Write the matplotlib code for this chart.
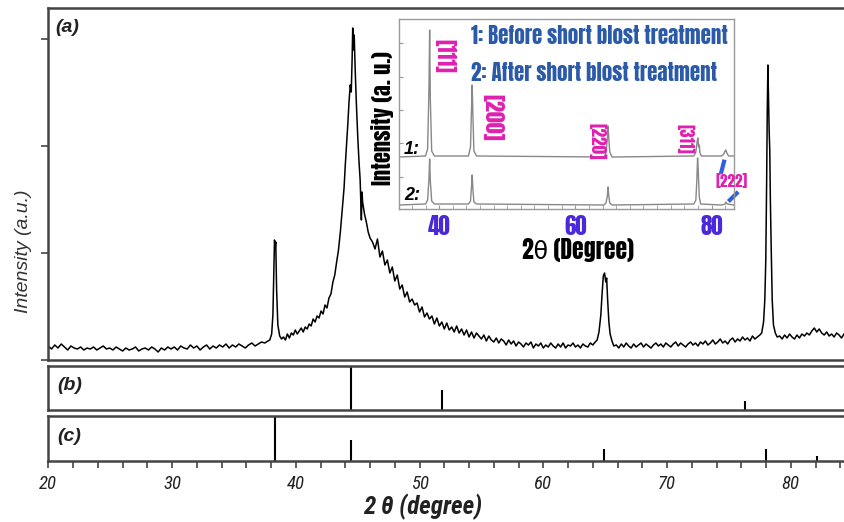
import matplotlib
matplotlib.use('Agg')
import matplotlib.pyplot as plt
from matplotlib import font_manager as fm
from matplotlib.ticker import MultipleLocator, NullFormatter
import numpy as np

AVAIL = {f.name for f in fm.fontManager.ttflist}


def pick(cands):
    for c in cands:
        if c in AVAIL:
            return [c, 'DejaVu Sans']
    return ['DejaVu Sans']


IMPACT = pick(['Anton', 'Oswald', 'Roboto Condensed', 'Asap Condensed', 'Barlow Condensed'])
NARROW = pick(['Roboto Condensed', 'Asap Condensed', 'Archivo Narrow', 'Liberation Sans Narrow'])
ARIAL = ['Liberation Sans', 'DejaVu Sans']

base_20_38 = [14, 11, 15, 12, 16, 13, 10, 14, 12,
              11, 13, 10, 12, 11, 13, 10, 12, 14, 11, 12, 10, 13, 11, 9,
              12, 10, 11, 13, 9, 11, 12, 10, 13, 11, 8, 12, 10, 13, 11,
              13, 10, 14, 12, 11, 15, 12, 14, 10, 13, 15, 11, 14, 12, 15,
              13, 16, 12, 15, 13, 16, 14, 12, 15, 17, 14, 16, 18, 17, 19]
peak38_tt = [37.9, 38.05, 38.15, 38.22, 38.28, 38.33, 38.38, 38.45, 38.55, 38.7, 38.85]
peak38_int = [20, 26, 45, 85, 120, 112, 118, 70, 35, 24, 21]
rise_39_43 = [23, 20, 26, 22, 27, 25, 30, 26, 29, 32, 28, 33, 31, 36, 34, 41, 38,
              44, 42, 49, 46, 55, 52, 62, 66, 78]
peak44_tt = [43.15, 43.3, 43.45, 43.6, 43.75, 43.9, 44.0, 44.1, 44.2, 44.3, 44.4,
             44.48, 44.55, 44.6, 44.65, 44.72, 44.8, 44.9, 45.0, 45.1, 45.2, 45.3,
             45.35, 45.4, 45.55, 45.7, 45.85, 46.0]
peak44_int = [85, 98, 110, 128, 150, 172, 195, 215, 235, 258, 275,
              268, 300, 332, 310, 325, 290, 255, 225, 200, 180, 140,
              168, 158, 146, 138, 128, 122]
tail_46_64 = [118, 111, 121, 103, 109, 95, 100, 87, 93, 79,
              85, 71, 75, 63, 68, 58, 61, 55, 57, 48,
              53, 43, 47, 41, 44, 36, 42, 34, 38, 31,
              37, 30, 33, 28, 34, 27, 31, 25, 30, 23,
              28, 22, 27, 24, 21, 25, 19, 24, 20, 18,
              22, 17, 21, 19, 15, 20, 16, 19, 14, 18,
              16, 13, 17, 15, 18, 12, 16, 14, 17, 12,
              15, 13, 17, 14, 12, 16, 13, 17, 12, 15,
              14, 17, 13, 15, 12, 16, 14, 13, 17, 15, 18]
peak65_tt = [64.35, 64.5, 64.65, 64.75, 64.85, 64.95, 65.05, 65.12, 65.2, 65.3, 65.4, 65.55, 65.7]
peak65_int = [20, 28, 45, 66, 84, 87, 78, 82, 60, 38, 26, 19, 14]
base_66_77 = [15, 12, 16, 13, 17, 14, 12, 16, 13, 15, 17, 13, 16, 14, 12, 15, 17, 14,
              16, 13, 17, 15, 13, 16, 18, 14, 17, 15, 13, 16, 18, 15, 17, 14, 18, 16,
              19, 15, 17, 20, 16, 18, 21, 17, 19, 16, 20, 22, 18, 21, 19, 23, 20, 22,
              19, 24, 21, 23, 25]
peak78_tt = [77.65, 77.8, 77.9, 77.98, 78.05, 78.1, 78.15, 78.2, 78.25, 78.3, 78.35,
             78.42, 78.5, 78.6, 78.75, 78.9]
peak78_int = [27, 38, 60, 100, 180, 250, 295, 262, 230, 210, 160, 110, 60, 35, 27, 23]
base_79_84 = [24, 21, 25, 22, 26, 23, 21, 25, 22, 26, 24, 27, 25, 29, 32, 28, 31, 27,
              25, 28, 24, 26, 23, 27, 25, 22, 26]

# ---- (b), (c) reference stick patterns ----
ref_b_tt = [44.5, 51.8, 76.3]
ref_b_int = [1.0, 0.46, 0.20]
ref_c_tt = [38.3, 44.5, 64.9, 78.0, 82.1]
ref_c_int = [1.0, 0.47, 0.26, 0.26, 0.11]

# ---- inset: before / after shot blast ----
ins1_tt = [34.1, 38.0, 38.3, 38.5, 38.6, 38.7, 38.9, 39.3, 44.3, 44.6, 44.75, 44.85,
           44.95, 45.1, 45.5, 64.2, 64.5, 64.7, 64.8, 64.9, 65.05, 65.4, 77.4, 77.7,
           77.9, 78.0, 78.1, 78.2, 78.3, 78.5, 81.5, 81.8, 82.0, 82.1, 82.25, 82.5, 83.3]
ins1_int = [52, 53, 60, 120, 179, 110, 58, 53, 53, 62, 100, 124,
            95, 58, 53, 52, 56, 70, 83, 72, 57, 52, 53, 57,
            68, 71, 62, 64, 56, 53, 53, 55, 58, 59, 56, 53, 53]
ins2_tt = [34.1, 38.0, 38.3, 38.5, 38.6, 38.7, 38.9, 39.3, 44.3, 44.6, 44.75, 44.85,
           44.95, 45.1, 45.5, 64.2, 64.5, 64.7, 64.8, 64.9, 65.05, 65.4, 77.4, 77.7,
           77.85, 77.95, 78.05, 78.2, 78.4, 81.5, 82.0, 82.1, 82.3, 83.3]
ins2_int = [4, 5, 9, 30, 50, 28, 8, 5, 5, 8, 22, 34,
            20, 7, 5, 4, 6, 13, 22, 14, 6, 4, 5, 9,
            30, 51, 38, 12, 5, 4, 5, 7, 5, 4]
ins_peaks = ['[111]', '[200]', '[220]', '[311]']
ins_peak_tt = [40.7, 47.8, 63.2, 76.2]
ins_peak_y = [153, 92, 68, 70]
ins_peak_size = [15, 16, 12.5, 12]

main_tt = np.concatenate([
    np.linspace(20.0, 37.75, len(base_20_38)), peak38_tt,
    np.linspace(39.0, 43.0, len(rise_39_43)), peak44_tt,
    np.linspace(46.2, 64.2, len(tail_46_64)), peak65_tt,
    np.linspace(65.9, 77.5, len(base_66_77)), peak78_tt,
    np.linspace(79.1, 84.3, len(base_79_84))])
main_int = np.concatenate([base_20_38, peak38_int, rise_39_43, peak44_int, tail_46_64,
                           peak65_int, base_66_77, peak78_int, base_79_84])

fig = plt.figure(figsize=(8.44, 5.22), dpi=100)
W, H = 844.0, 522.0
x0 = 48.3 / W
ax_a = fig.add_axes([x0, 1 - 360 / H, 1.0 - x0, 352 / H])
ax_b = fig.add_axes([x0, 1 - 410 / H, 1.0 - x0, 44 / H])
ax_c = fig.add_axes([x0, 1 - 461 / H, 1.0 - x0, 45 / H])

for ax in (ax_a, ax_b, ax_c):
    ax.set_xlim(20, 84.3)
    for s in ax.spines.values():
        s.set_linewidth(1.8)
        s.set_color('#444444')
    ax.spines['right'].set_visible(False)

ax_a.plot(main_tt, main_int, color='black', lw=1.1)
ax_a.set_ylim(0, 352)
ax_a.set_yticks([0, 107, 214, 321])
ax_a.yaxis.set_major_formatter(NullFormatter())
ax_a.tick_params(axis='y', direction='out', length=5, width=1.2, color='#444444')
ax_a.set_xticks([])
ax_a.set_ylabel('Intensity (a.u.)', fontsize=14, fontstyle='italic', family=ARIAL, color='#333333')
ax_a.yaxis.set_label_coords(-0.02, 0.31)
ax_a.text(0.009, 0.968, '(a)', transform=ax_a.transAxes, ha='left', va='top',
          fontsize=14, fontweight='bold', fontstyle='italic', family=ARIAL, color='#222222')

ax_b.vlines(ref_b_tt, 0, ref_b_int, color='black', lw=1.5)
ax_c.vlines(ref_c_tt, 0, ref_c_int, color='black', lw=1.5)
for ax, lab in ((ax_b, '(b)'), (ax_c, '(c)')):
    ax.set_ylim(0, 1)
    ax.set_yticks([])
    ax.text(0.011, 0.55, lab, transform=ax.transAxes, ha='left', va='center',
            fontsize=14, fontweight='bold', fontstyle='italic', family=ARIAL, color='#222222')
ax_b.set_xticks([])

ax_c.xaxis.set_major_locator(MultipleLocator(10))
ax_c.xaxis.set_minor_locator(MultipleLocator(2))
ax_c.tick_params(axis='x', which='both', direction='out', length=5, width=1.2,
                 color='#444444', pad=5)
for t in ax_c.get_xticklabels():
    t.set_fontsize(13.5)
    t.set_fontstyle('italic')
    t.set_family(NARROW)
    t.set_color('#222222')
ax_c.set_xlabel('2 θ (degree)', fontsize=18, fontweight='bold', fontstyle='italic',
                family=NARROW, color='#222222')
ax_c.xaxis.set_label_coords(0.471, -0.73)

# ---- inset ----
ax_in = fig.add_axes([399 / W, 1 - 209 / H, 335 / W, 190 / H])
ax_in.set_facecolor('white')
ax_in.plot(ins1_tt, ins1_int, color='#888888', lw=1.0)
ax_in.plot(ins2_tt, ins2_int, color='#888888', lw=1.0)
ax_in.set_xlim(34.1, 83.3)
ax_in.set_ylim(0, 190)
for s in ax_in.spines.values():
    s.set_linewidth(1.0)
    s.set_color('#999999')
ax_in.xaxis.set_major_locator(MultipleLocator(20))
ax_in.xaxis.set_minor_locator(MultipleLocator(2))
ax_in.tick_params(axis='x', which='both', direction='in', length=3, color='#999999', pad=4)
ax_in.set_yticks([32, 66, 99, 132, 166])
ax_in.yaxis.set_major_formatter(NullFormatter())
ax_in.tick_params(axis='y', direction='in', length=3, color='#999999')
for t in ax_in.get_xticklabels():
    t.set_fontsize(16.5)
    t.set_family(IMPACT)
    t.set_color('#4b28d8')
ax_in.set_xlabel('2θ (Degree)', fontsize=17, family=IMPACT, color='black')
ax_in.xaxis.set_label_coords(0.534, -0.15)
ax_in.set_ylabel('Intensity (a. u.)', fontsize=16, family=IMPACT, color='black')
ax_in.yaxis.set_label_coords(-0.015, 0.48)

ax_in.text(44.7, 173, '1: Before short blost treatment', fontsize=15.1, family=IMPACT,
           color='#2a5aa8', va='center', ha='left')
ax_in.text(44.7, 136, '2: After short blost treatment', fontsize=15.1, family=IMPACT,
           color='#2a5aa8', va='center', ha='left')
for lab, xt, yt, fs in zip(ins_peaks, ins_peak_tt, ins_peak_y, ins_peak_size):
    ax_in.text(xt, yt, lab, rotation=-90, fontsize=fs, family=IMPACT,
               color='#e020b0', ha='center', va='center')
ax_in.text(82.95, 27, '[222]', fontsize=11, family=IMPACT,
           color='#e020b0', ha='center', va='center', clip_on=False)
ax_in.plot([81.83, 81.45], [47.3, 37.3], color='#3060e0', lw=3, clip_on=False)
ax_in.plot([82.7, 83.7], [9, 15.7], color='#3060e0', lw=3, clip_on=False)
ax_in.text(36.0, 60, '1:', fontsize=13, fontweight='bold', fontstyle='italic', family=ARIAL,
           color='black', ha='center', va='center')
ax_in.text(36.0, 13, '2:', fontsize=13, fontweight='bold', fontstyle='italic', family=ARIAL,
           color='black', ha='center', va='center')

fig.savefig('out.png', dpi=100)
